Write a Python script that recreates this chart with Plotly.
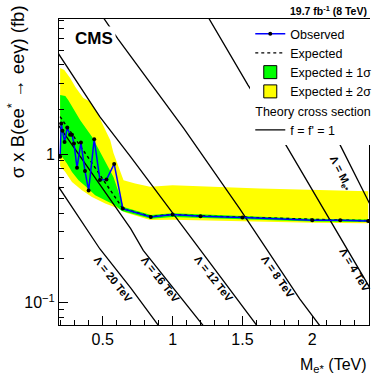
import math
import plotly.graph_objects as go

# observed 95% CL limit (fb) vs e* mass (TeV)
obs_mass = [0.195, 0.203, 0.212, 0.227, 0.246, 0.266, 0.28, 0.294, 0.316, 0.344, 0.373, 0.399,
            0.439, 0.48, 0.527, 0.582, 0.644, 0.844, 1.0, 1.2, 1.5, 2.0, 2.2, 2.4]
obs_xs = [0.96, 1.61, 1.44, 1.21, 1.51, 1.35, 1.35, 1.18, 0.81, 1.20, 0.77, 0.57,
          1.26, 0.67, 0.675, 0.86, 0.43, 0.378, 0.392, 0.382, 0.374, 0.359, 0.359, 0.355]

# expected limit
exp_mass = [0.195, 0.25, 0.30, 0.35, 0.40, 0.45, 0.50, 0.55, 0.60, 0.644, 0.844, 1.0, 1.2, 1.5, 2.0, 2.2, 2.4]
exp_xs = [1.79, 1.51, 1.29, 1.10, 0.94, 0.80, 0.68, 0.58, 0.49, 0.43, 0.381, 0.393, 0.384, 0.376, 0.361, 0.36, 0.357]

# +-1 sigma band
g1_up_mass = [0.195, 0.232, 0.254, 0.339, 0.423, 0.506, 0.577, 0.625, 0.649, 0.845, 1.0, 1.5, 2.0, 2.4]
g1_up_xs = [2.50, 2.46, 2.31, 1.69, 1.31, 0.935, 0.703, 0.515, 0.441, 0.39, 0.40, 0.383, 0.367, 0.363]
g1_lo_mass = [0.195, 0.209, 0.244, 0.28, 0.327, 0.387, 0.446, 0.518, 0.589, 0.637, 0.845, 1.0, 1.5, 2.0, 2.4]
g1_lo_xs = [0.96, 0.96, 0.866, 0.76, 0.668, 0.596, 0.529, 0.49, 0.453, 0.415, 0.368, 0.378, 0.366, 0.352, 0.35]

# +-2 sigma band
g2_up_mass = [0.195, 0.225, 0.268, 0.304, 0.361, 0.411, 0.461, 0.518, 0.554, 0.577, 0.613, 0.649,
              0.732, 0.839, 1.0, 1.625, 2.4]
g2_up_xs = [3.80, 3.68, 3.25, 2.83, 2.39, 2.25, 1.89, 1.45, 1.24, 1.02, 0.821, 0.668,
            0.634, 0.603, 0.618, 0.587, 0.563]
g2_lo_mass = [0.195, 0.232, 0.28, 0.351, 0.423, 0.518, 0.613, 0.661, 0.839, 1.0, 1.48, 2.0, 2.4]
g2_lo_xs = [0.83, 0.76, 0.65, 0.572, 0.515, 0.465, 0.43, 0.405, 0.36, 0.362, 0.355, 0.345, 0.343]

# theory cross sections, f = f' = 1
theory = {
    "20 TeV": ([0.18, 0.35, 0.48, 0.70, 0.90, 0.93], [0.61, 0.355, 0.23, 0.126, 0.070, 0.061]),
    "16 TeV": ([0.18, 0.41, 0.70, 0.79, 1.22, 1.25], [1.58, 0.77, 0.315, 0.225, 0.070, 0.0645]),
    "12 TeV": ([0.18, 0.48, 0.70, 1.20, 1.60, 1.63], [4.8, 1.78, 0.96, 0.225, 0.070, 0.065]),
    "8 TeV": ([0.48, 0.61, 1.08, 1.48, 1.91, 2.05, 2.08], [8.96, 5.96, 1.49, 0.43, 0.106, 0.070, 0.065]),
    "4 TeV": ([1.22, 1.26, 1.54, 1.80, 2.41, 2.45], [9.2, 8.2, 2.92, 1.2, 0.127, 0.11]),
    "M": ([2.05, 2.19, 2.41, 2.43], [2.3, 1.2, 0.465, 0.42]),
}

FONT = "Liberation Sans, Arial, Helvetica, sans-serif"

fig = go.Figure()

# bands as closed polygons
fig.add_trace(go.Scatter(x=g2_up_mass + g2_lo_mass[::-1], y=g2_up_xs + g2_lo_xs[::-1],
                         fill="toself", fillcolor="#ffff00", line=dict(width=0),
                         mode="lines", showlegend=False, hoverinfo="skip"))
fig.add_trace(go.Scatter(x=g1_up_mass + g1_lo_mass[::-1], y=g1_up_xs + g1_lo_xs[::-1],
                         fill="toself", fillcolor="#00ff00", line=dict(width=0),
                         mode="lines", showlegend=False, hoverinfo="skip"))

first = True
for lam, (m, xs) in theory.items():
    fig.add_trace(go.Scatter(x=m, y=xs, mode="lines", line=dict(color="black", width=1.3),
                             name="f = f' = 1", showlegend=first, legendrank=5,
                             legendgroup="th",
                             legendgrouptitle=dict(text="Theory cross section",
                                                   font=dict(size=12.5, color="black"))))
    first = False

fig.add_trace(go.Scatter(x=exp_mass, y=exp_xs, mode="lines", name="Expected", legendrank=2,
                         line=dict(color="black", width=1.4, dash="dot")))
fig.add_trace(go.Scatter(x=obs_mass, y=obs_xs, mode="lines+markers", name="Observed", legendrank=1,
                         line=dict(color="#0000ff", width=1.5),
                         marker=dict(color="black", size=4)))

# legend keys for the bands
fig.add_trace(go.Scatter(x=[None], y=[None], mode="markers", name="Expected \u00b1 1\u03c3", legendrank=3,
                         marker=dict(symbol="square", size=13, color="#00ff00",
                                     line=dict(color="black", width=1))))
fig.add_trace(go.Scatter(x=[None], y=[None], mode="markers", name="Expected \u00b1 2\u03c3", legendrank=4,
                         marker=dict(symbol="square", size=13, color="#ffff00",
                                     line=dict(color="black", width=1))))

# labels on the theory lines: (text, x, sigma, angle)
labels = [
    ("\u039b = 20 TeV", 0.575, 0.1447, 52),
    ("\u039b = 16 TeV", 0.911, 0.1436, 52),
    ("\u039b = 12 TeV", 1.296, 0.1436, 52),
    ("\u039b = 8 TeV", 1.754, 0.148, 55),
    ("\u039b = 4 TeV", 2.304, 0.165, 59),
    ("\u039b = M<sub>e*</sub>", 2.20, 0.745, 63),
]
for txt, x, y, ang in labels:
    fig.add_annotation(x=x, y=math.log10(y), text="<b>" + txt + "</b>", showarrow=False,
                       xanchor="center", yanchor="middle",
                       textangle=ang, font=dict(size=11, color="black"))

fig.add_annotation(xref="paper", yref="paper", x=0.1137, y=0.936, xanchor="center", yanchor="middle",
                   text="<b>CMS</b>", showarrow=False, font=dict(size=17, color="black"),
                   bgcolor="white", borderpad=2)
fig.add_annotation(xref="paper", yref="paper", x=1.0, y=1.028, xanchor="right", yanchor="middle",
                   text="<b>19.7 fb<sup>-1</sup> (8 TeV)</b>", showarrow=False,
                   font=dict(size=10.5, color="black"))
fig.add_annotation(xref="paper", yref="paper", x=1.0, y=-0.095, xanchor="right", yanchor="top",
                   text="M<sub>e*</sub> (TeV)", showarrow=False, font=dict(size=16, color="black"))
fig.add_annotation(xref="paper", yref="paper", x=-0.14, y=1.052, xanchor="center", yanchor="top",
                   text="\u03c3 x B(ee<sup>*</sup> \u2192 ee\u03b3) (fb)", textangle=-90,
                   showarrow=False, font=dict(size=18.5, color="black"))

fig.update_layout(
    width=390, height=383,
    margin=dict(l=59, r=21, t=19, b=58, autoexpand=False),
    plot_bgcolor="white", paper_bgcolor="white",
    font=dict(family=FONT, color="black"),
    legend=dict(x=0.617, y=1.0, xanchor="left", yanchor="top", bgcolor="white",
                font=dict(size=12.5), traceorder="grouped", tracegroupgap=0, itemwidth=30),
)
fig.update_xaxes(range=[0.187, 2.406], showgrid=False, zeroline=False, automargin=False,
                 showline=True, mirror=True, linecolor="black", linewidth=1,
                 tickmode="array", tickvals=[0.5, 1, 1.5, 2], ticktext=["0.5", "1", "1.5", "2"],
                 ticks="inside", ticklen=9, tickcolor="black", tickfont=dict(size=16),
                 minor=dict(ticks="inside", ticklen=5, dtick=0.1, tick0=0, tickcolor="black"))
fig.update_yaxes(type="log", range=[-1.15, 0.91], showgrid=False, zeroline=False, automargin=False,
                 showline=True, mirror=True, linecolor="black", linewidth=1,
                 tickmode="array", tickvals=[0.1, 1], ticktext=["10<sup>\u22121</sup>", "1"],
                 ticks="inside", ticklen=9, tickcolor="black", tickfont=dict(size=16),
                 minor=dict(ticks="inside", ticklen=5, tickcolor="black", tickmode="array",
                            tickvals=[0.07, 0.08, 0.09, 0.2, 0.3, 0.4, 0.5, 0.6, 0.7, 0.8, 0.9,
                                      2, 3, 4, 5, 6, 7, 8]))

fig.write_html("out.html", config={"displayModeBar": False},
               post_script="document.body.style.margin='0px';")
